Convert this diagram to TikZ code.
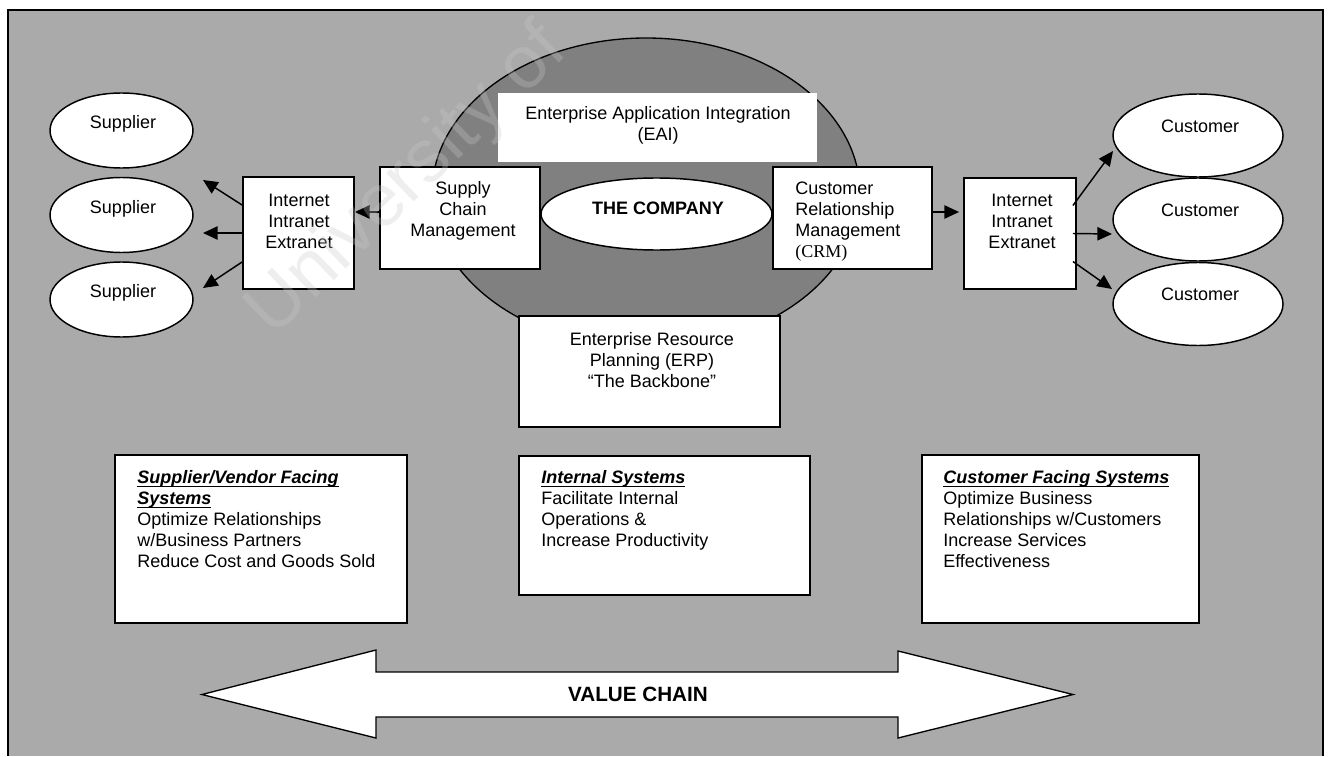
\documentclass[tikz,border=0pt]{standalone}
\usepackage{fontspec}
\setmainfont{Liberation Sans}
\newfontfamily\timesfont{Liberation Serif}
\usetikzlibrary{shapes.geometric,arrows.meta}
\definecolor{panel}{RGB}{170,170,170}
\definecolor{hubgray}{RGB}{128,128,128}
\definecolor{wmark}{RGB}{200,200,200}
\newcommand\basefont{\fontsize{13.5}{15.75}\selectfont}
\newsavebox\hlbox
\newcommand\headline[1]{\sbox\hlbox{\bfseries\itshape #1}\rlap{\usebox\hlbox}\rule[-2.4pt]{\wd\hlbox}{0.9pt}}

\begin{document}
\begin{tikzpicture}[x=0.75pt,y=-0.75pt,
  every node/.style={font=\basefont},
  sz/.style 2 args={minimum width=#1*0.75pt, minimum height=#2*0.75pt, inner sep=0pt},
  whitebox/.style={rectangle, draw=black, line width=1.4pt, fill=white},
  plainbox/.style={rectangle, fill=white},
  oval/.style={ellipse, draw=black, line width=1.1pt, fill=white},
  txt/.style={inner sep=0pt, align=center},
  ltxt/.style={inner sep=0pt, align=left, anchor=north west},
  arr/.style={line width=1.1pt, -{Triangle[length=11pt,width=10pt]}},
]
\useasboundingbox (0,0) rectangle (1330,756);

% panel and its frame
\fill[panel] (8,10) rectangle (1323,756);
\draw[line width=1.2pt] (8,756) -- (8,10) -- (1323,10) -- (1323,756);

% the company hub
\node[ellipse, draw=black, line width=1pt, fill=hubgray, sz={428}{310}] (hub) at (646,193) {};
\node[plainbox, sz={319}{69}] (eai) at (657.5,127.5) {};
\node[txt] (eaitxt) at (658,125) {Enterprise Application Integration\\(EAI)};
\node[oval, sz={231}{72}] (co) at (656.5,214) {};
\node[txt] (cotxt) at (658,208) {\bfseries THE COMPANY};

\node[whitebox, sz={160}{102}] (scm) at (460,218) {};
\node[txt] (scmtxt) at (463,211) {Supply\\Chain\\Management};
\node[whitebox, sz={159}{102}] (crm) at (852.5,218) {};
\node[txt, align=left, anchor=west] (crmtxt) at (795,221.5) {Customer\\Relationship\\Management\\{\timesfont (CRM)}};
\node[whitebox, sz={261}{111}] (erp) at (649.5,371.5) {};
\node[txt] (erptxt) at (652,360) {Enterprise Resource\\Planning (ERP)\\“The Backbone”};

% network boxes
\node[whitebox, sz={111}{112}] (inL) at (298.5,233) {};
\node[txt] (inLtxt) at (299,221) {Internet\\Intranet\\Extranet};
\node[whitebox, sz={112}{111}] (inR) at (1020,233.5) {};
\node[txt] (inRtxt) at (1022,221) {Internet\\Intranet\\Extranet};

% partners
\foreach \i/\y in {1/130.5,2/215,3/299.5} {
  \node[oval, sz={143}{75}] (sup\i) at (121.5,\y) {};
  \node[txt] (supt\i) at (123,\y-6.5) {Supplier};
}
\foreach \i/\y in {1/135.5,2/219.5,3/304} {
  \node[oval, sz={170}{83}] (cus\i) at (1198,\y) {};
  \node[txt] (cust\i) at (1200,\y-9.5) {Customer};
}

% connectors
\coordinate (sa1) at (203,180);
\coordinate (sa2) at (203,233);
\coordinate (sa3) at (203,288);
\draw[arr] ([yshift=21pt]inL.west) -- (sa1);
\draw[arr] (inL.west) -- (sa2);
\draw[arr] ([yshift=-21.75pt]inL.west) -- (sa3);
\draw[arr] ([yshift=4.5pt]scm.west) -- ([yshift=4.5pt]scm.west -| inL.east);
\draw[arr, shorten >=3pt] ([yshift=4.5pt]crm.east) -- ([yshift=4.5pt]crm.east -| inR.west);
\coordinate (ca1) at (1113,151);
\coordinate (ca2) at (1112,234);
\coordinate (ca3) at (1112,289);
\draw[arr] ([xshift=-3pt,yshift=21pt]inR.east) -- (ca1);
\draw[arr] ([xshift=-3pt]inR.east) -- (ca2);
\draw[arr] ([xshift=-3pt,yshift=-21pt]inR.east) -- (ca3);

% system groups
\node[whitebox, sz={292}{168}] (svbox) at (261,539) {};
\node[ltxt] (svtxt) at (137,470.5) {\headline{Supplier/Vendor Facing}\\\headline{Systems}\\Optimize Relationships\\w/Business Partners\\Reduce Cost and Goods Sold};
\node[whitebox, sz={291}{139}] (isbox) at (664.5,525.5) {};
\node[ltxt] (istxt) at (541,470.5) {\headline{Internal Systems}\\Facilitate Internal\\Operations \&\\Increase Productivity};
\node[whitebox, sz={277}{168}] (cfbox) at (1060.5,539) {};
\node[ltxt] (cftxt) at (943,470.5) {\headline{Customer Facing Systems}\\Optimize Business\\Relationships w/Customers\\Increase Services\\Effectiveness};

% value chain double arrow
\draw[line width=1pt, fill=white] (202,694.5) -- (376,650) -- (376,672) -- (898,672) -- (898,651)
  -- (1073,694.5) -- (898,738) -- (898,717) -- (376,717) -- (376,738) -- cycle;
\node (vc) at (638,694.5) {\fontsize{15.5}{18}\selectfont\bfseries VALUE CHAIN};

% watermark
\node[rotate=44, text=wmark, opacity=0.3, font=\fontsize{56}{56}\selectfont] (wm) at (408,182) {University of};
\end{tikzpicture}
\end{document}
